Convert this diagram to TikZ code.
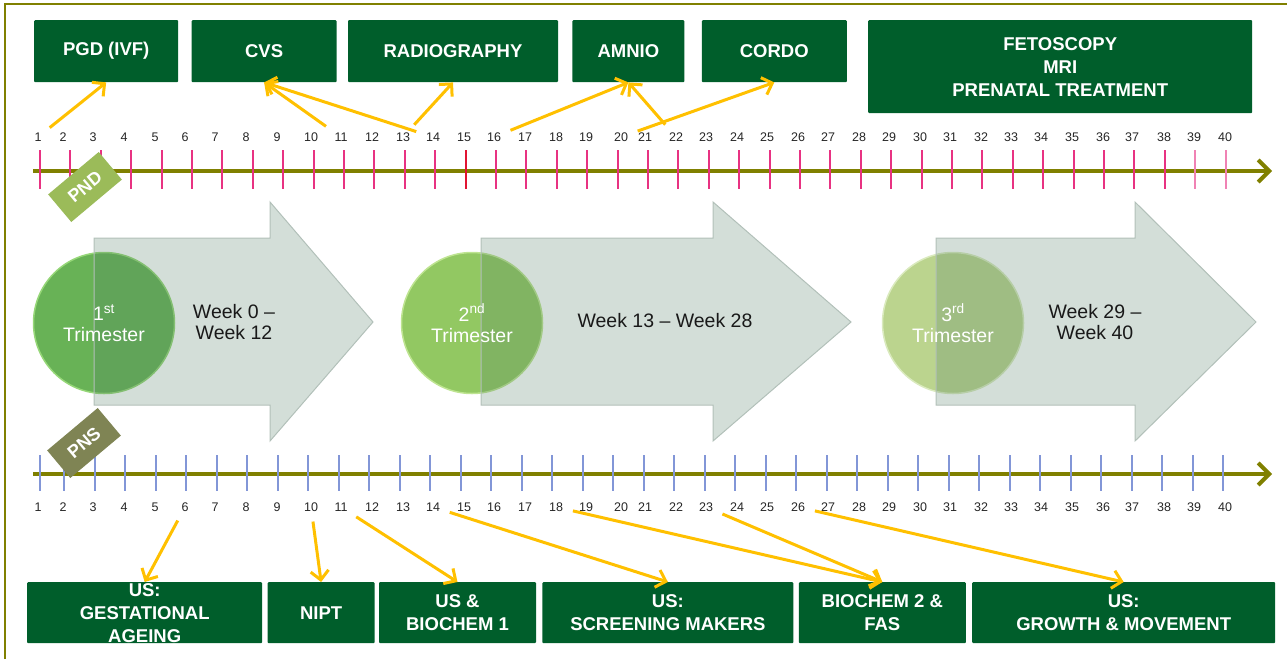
\documentclass[tikz,border=0pt]{standalone}
\usepackage{fontspec}
\setmainfont{Liberation Sans}
\usepackage{xcolor}
\usepackage{tikz}
\usetikzlibrary{arrows.meta,positioning,shapes}

\definecolor{boxgreen}{RGB}{0,94,43}
\definecolor{axisolive}{RGB}{128,128,0}
\definecolor{linkyellow}{RGB}{255,192,0}
\definecolor{pndgreen}{RGB}{155,187,89}
\definecolor{pnsgray}{RGB}{127,132,84}
\definecolor{tickpink}{RGB}{232,50,130}
\definecolor{tickred}{RGB}{225,20,50}
\definecolor{ticklight}{RGB}{240,130,180}
\definecolor{tickblue}{RGB}{130,150,215}
\definecolor{arrowgray}{RGB}{79,123,99}
\definecolor{arrowedge}{RGB}{178,192,185}
\definecolor{trione}{RGB}{104,178,86}
\definecolor{trioneedge}{RGB}{150,215,120}
\definecolor{tritwo}{RGB}{146,200,98}
\definecolor{tritwoedge}{RGB}{190,228,145}
\definecolor{trithree}{RGB}{187,212,142}
\definecolor{trithreeedge}{RGB}{218,234,190}

\begin{document}
\begin{tikzpicture}[
    x=1pt, y=-1pt,
    box/.style={rectangle, fill=boxgreen, text=white, font=\bfseries\fontsize{18.5}{23}\selectfont, align=center, minimum height=62pt, inner sep=0pt, rounded corners=1pt},
    tag/.style={rectangle, text=white, font=\bfseries\fontsize{18}{20}\selectfont, minimum width=66pt, minimum height=36pt, rotate=40, inner sep=0pt},
    wknum/.style={font=\fontsize{12.5}{14}\selectfont, text=black!85, inner sep=1pt},
    wktick/.style={line width=2pt},
    timeline/.style={draw=axisolive, line width=4pt, -{Straight Barb[length=11pt,width=22pt]}},
    link/.style={draw=linkyellow, line width=3pt, -{Straight Barb[length=9pt,width=18pt]}, shorten <=9pt},
    trim/.style={circle, minimum size=141pt, inner sep=0pt, line width=1.5pt},
    bigarrow/.style={fill=arrowgray, fill opacity=0.25, draw=arrowedge, line width=1pt},
    spantext/.style={font=\fontsize{19.5}{21}\selectfont, align=center, text=black!90}
]
\useasboundingbox (0,0) rectangle (1287,659);
\draw[draw=axisolive, line width=1.5pt] (5,659) -- (5,4) -- (1287,4);

\coordinate (pstart) at (33,171);
\coordinate (pend) at (1272,171);
\coordinate (sstart) at (33,474);
\coordinate (send) at (1272,474);
\draw[timeline] (pstart) -- (pend);
\draw[timeline] (sstart) -- (send);

\foreach \i [evaluate=\i as \tx using round(40+(\i-1)*30.4)] in {1,...,40}
  \draw[wktick, draw=tickpink] (\tx,150) -- (\tx,189);
\draw[wktick, draw=tickred] (466,150) -- (466,189);
\draw[wktick, draw=ticklight] (1195,150) -- (1195,189);
\draw[wktick, draw=ticklight] (1226,150) -- (1226,189);

\draw[wktick, draw=tickblue] (40,455) -- (40,491);
\foreach \i [evaluate=\i as \bx using round(64+(\i-2)*30.5)] in {2,...,40}
  \draw[wktick, draw=tickblue] (\bx,455) -- (\bx,491);

\foreach \i/\lx in {1/38,2/63,3/93,4/124,5/155,6/185,7/215,8/246,9/277,10/311,
    11/341,12/372,13/403,14/433,15/464,16/494,17/525,18/556,19/586,20/621,
    21/645,22/676,23/706,24/737,25/767,26/798,27/828,28/859,29/889,30/920,
    31/950,32/981,33/1011,34/1041,35/1072,36/1103,37/1132,38/1164,39/1194,40/1225} {
  \node[wknum] (tl\i) at (\lx,137) {\i};
  \node[wknum] (bl\i) at (\lx,507) {\i};
}

\node[tag, fill=pndgreen] (pnd) at (85,187) {PND};
\node[tag, fill=pnsgray] (pns) at (84,443) {PNS};

\node[trim, fill=trione, draw=trioneedge] (tri1) at (104,323) {};
\node[trim, fill=tritwo, draw=tritwoedge] (tri2) at (472,323) {};
\node[trim, fill=trithree, draw=trithreeedge] (tri3) at (953,323) {};

\draw[bigarrow] (94,238) -- (270,238) -- (270,202) -- (373,322) -- (270,441) -- (270,405) -- (94,405) -- cycle;
\draw[bigarrow] (481,238) -- (713,238) -- (713,202) -- (851,322) -- (713,441) -- (713,405) -- (481,405) -- cycle;
\draw[bigarrow] (936,238) -- (1135,238) -- (1135,202) -- (1256,322) -- (1135,441) -- (1135,405) -- (936,405) -- cycle;

\node[spantext, text=white] (tri1txt) at (tri1) {1\textsuperscript{st}\\Trimester};
\node[spantext, text=white] (tri2txt) at (tri2) {2\textsuperscript{nd}\\Trimester};
\node[spantext, text=white] (tri3txt) at (tri3) {3\textsuperscript{rd}\\Trimester};
\node[spantext] (wk1) at (234,322) {Week 0 –\\Week 12};
\node[spantext] (wk2) at (665,321) {Week 13 – Week 28};
\node[spantext] (wk3) at (1095,322) {Week 29 –\\Week 40};

\node[box, minimum width=144pt, anchor=north west] (pgd) at (34,20) {PGD (IVF)};
\node[box, minimum width=145pt, right=13pt of pgd] (cvs) {CVS};
\node[box, minimum width=210pt, right=11pt of cvs] (radio) {RADIOGRAPHY};
\node[box, minimum width=112pt, right=14pt of radio] (amnio) {AMNIO};
\node[box, minimum width=145pt, right=17pt of amnio] (cordo) {CORDO};
\node[box, minimum width=384pt, minimum height=93pt, right=21pt of cordo.north east, anchor=north west] (feto) {FETOSCOPY\\MRI\\PRENATAL TREATMENT};

\node[box, minimum width=235pt, minimum height=61pt, anchor=north west] (usga) at (27,582) {US:\\GESTATIONAL\\AGEING};
\node[box, minimum width=107pt, minimum height=61pt, right=5pt of usga] (nipt) {NIPT};
\node[box, minimum width=157pt, minimum height=61pt, right=4pt of nipt] (usbio) {US \&\\BIOCHEM 1};
\node[box, minimum width=251pt, minimum height=61pt, right=6pt of usbio] (ussm) {US:\\SCREENING MAKERS};
\node[box, minimum width=167pt, minimum height=61pt, right=5pt of ussm] (bio2) {BIOCHEM 2 \&\\FAS};
\node[box, minimum width=303pt, minimum height=61pt, right=6pt of bio2] (usgm) {US:\\GROWTH \& MOVEMENT};

\draw[link] (tl1) -- (pgd.south);
\draw[link] (tl11) -- (cvs.south);
\draw[link] (tl14) -- (cvs.south);
\draw[link] (tl13) -- (radio.south);
\draw[link] (tl16) -- (amnio.south);
\draw[link] (tl22) -- (amnio.south);
\draw[link] (tl20) -- (cordo.south);

\draw[link] (bl6) -- (usga.north);
\draw[link] (bl10) -- (nipt.north);
\draw[link] (bl11) -- (usbio.north);
\draw[link] (bl14) -- (ussm.north);
\draw[link] (bl18) -- (bio2.north);
\draw[link] (bl23) -- (bio2.north);
\draw[link] (bl26) -- (usgm.north);
\end{tikzpicture}
\end{document}
